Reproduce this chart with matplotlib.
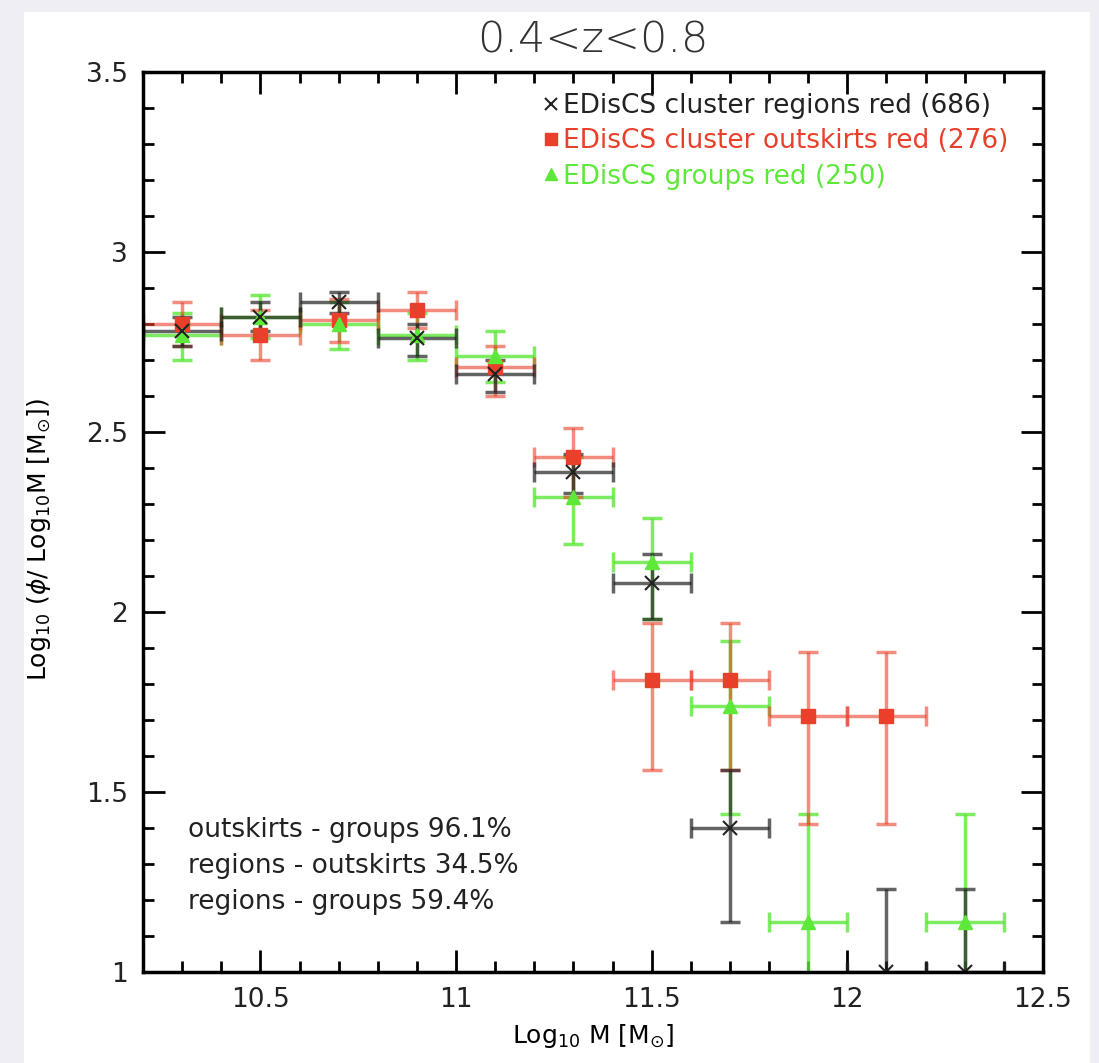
import numpy as np
import matplotlib
matplotlib.use("Agg")
import matplotlib.pyplot as plt
from matplotlib.patches import Rectangle
from matplotlib.ticker import MultipleLocator

# stellar mass bins (log10 M), half bin width
xerr = 0.1

# cluster regions (black x)
reg_mass = [10.3, 10.5, 10.7, 10.9, 11.1, 11.3, 11.5, 11.7, 12.1, 12.3]
reg_phi = [2.78, 2.82, 2.86, 2.76, 2.66, 2.39, 2.08, 1.40, 1.00, 1.00]
reg_lo = [0.04, 0.04, 0.03, 0.05, 0.05, 0.06, 0.10, 0.26, 0.40, 0.40]
reg_hi = [0.04, 0.04, 0.03, 0.04, 0.04, 0.05, 0.08, 0.16, 0.23, 0.23]

# cluster outskirts (red squares)
out_mass = [10.3, 10.5, 10.7, 10.9, 11.1, 11.3, 11.5, 11.7, 11.9, 12.1]
out_phi = [2.80, 2.77, 2.81, 2.84, 2.68, 2.43, 1.81, 1.81, 1.71, 1.71]
out_lo = [0.06, 0.07, 0.06, 0.05, 0.08, 0.11, 0.25, 0.25, 0.30, 0.30]
out_hi = [0.06, 0.07, 0.06, 0.05, 0.06, 0.08, 0.16, 0.16, 0.18, 0.18]

# groups (green triangles)
grp_mass = [10.3, 10.5, 10.7, 10.9, 11.1, 11.3, 11.5, 11.7, 11.9, 12.3]
grp_phi = [2.77, 2.82, 2.80, 2.77, 2.71, 2.32, 2.14, 1.74, 1.14, 1.14]
grp_lo = [0.07, 0.06, 0.07, 0.07, 0.07, 0.13, 0.16, 0.30, 0.40, 0.40]
grp_hi = [0.06, 0.06, 0.06, 0.06, 0.07, 0.11, 0.12, 0.18, 0.30, 0.30]

labels = ["EDisCS cluster regions red (686)",
          "EDisCS cluster outskirts red (276)",
          "EDisCS groups red (250)"]
ks_text = ["outskirts - groups 96.1%",
           "regions - outskirts 34.5%",
           "regions - groups 59.4%"]

fig = plt.figure(figsize=(10.99, 10.63), dpi=100)
fig.patch.set_facecolor("#efeef5")
panel = Rectangle((24 / 1099, 0), (1090 - 24) / 1099, 1 - 12 / 1063,
                  transform=fig.transFigure, facecolor="white", edgecolor="none")
panel.set_zorder(-10)
fig.add_artist(panel)
ax = fig.add_axes([143 / 1099, 1 - 972 / 1063, 900 / 1099, 900 / 1063])
ax.set_zorder(5)
ax.patch.set_alpha(0)

blk, red, grn = "#222222", "#e8402a", "#5ee83a"
eb = dict(fmt="none", capsize=7.5, elinewidth=2.5, capthick=2.5)
ax.errorbar(grp_mass, grp_phi, xerr=xerr, yerr=[grp_lo, grp_hi], ecolor=grn, alpha=0.8, **eb)
ax.errorbar(out_mass, out_phi, xerr=xerr, yerr=[out_lo, out_hi], ecolor=red, alpha=0.6, **eb)
ax.errorbar(reg_mass, reg_phi, xerr=xerr, yerr=[reg_lo, reg_hi], ecolor=blk, alpha=0.7, **eb)
ax.plot(out_mass, out_phi, "s", color=red, ms=10, ls="none", label=labels[1])
ax.plot(grp_mass, grp_phi, "^", color=grn, ms=10, ls="none", label=labels[2])
ax.plot(reg_mass, reg_phi, "x", color=blk, ms=10, mew=1.5, ls="none", label=labels[0])

ax.set_xlim(10.2, 12.5)
ax.set_ylim(1.0, 3.5)
ax.xaxis.set_minor_locator(MultipleLocator(0.1))
ax.yaxis.set_minor_locator(MultipleLocator(0.1))
ax.tick_params(which="both", direction="in", top=True, right=True, width=2, labelsize=19,
               labelcolor="#222222", pad=11)
ax.tick_params(which="major", length=16)
ax.tick_params(which="minor", length=8)
ax.set_xticks([10.5, 11, 11.5, 12, 12.5])
ax.set_xticklabels(["10.5", "11", "11.5", "12", "12.5"])
ax.set_yticks([1, 1.5, 2, 2.5, 3, 3.5])
ax.set_yticklabels(["1", "1.5", "2", "2.5", "3", "3.5"])
for s in ax.spines.values():
    s.set_linewidth(2.5)

ax.set_xlabel(r"Log$_{10}$ M [M$_{\odot}$]", fontsize=18, labelpad=6)
ax.set_ylabel(r"Log$_{10}$ ($\phi$/ Log$_{10}$M [M$_{\odot}$])", fontsize=18, labelpad=14)
ax.yaxis.set_label_coords(-0.1, 0.48)
ax.set_title("0.4<z<0.8", fontsize=31, color="#333333", pad=14, fontweight="light")

h, l = ax.get_legend_handles_labels()
order = [2, 0, 1]
leg = ax.legend([h[i] for i in order], [l[i] for i in order], loc="upper right",
                frameon=False, fontsize=19, handlelength=0.5, handletextpad=0.2,
                labelspacing=0.35, borderaxespad=0.4, markerscale=0.8,
                bbox_to_anchor=(0.985, 1.0))
for t, c in zip(leg.get_texts(), [blk, red, grn]):
    t.set_color(c)

for i, s in enumerate(ks_text):
    ax.text(0.05, 0.158 - i * 0.04, s, transform=ax.transAxes, fontsize=19, color="#222222",
            va="center")

fig.savefig("out.png", dpi=100, facecolor=fig.get_facecolor())
